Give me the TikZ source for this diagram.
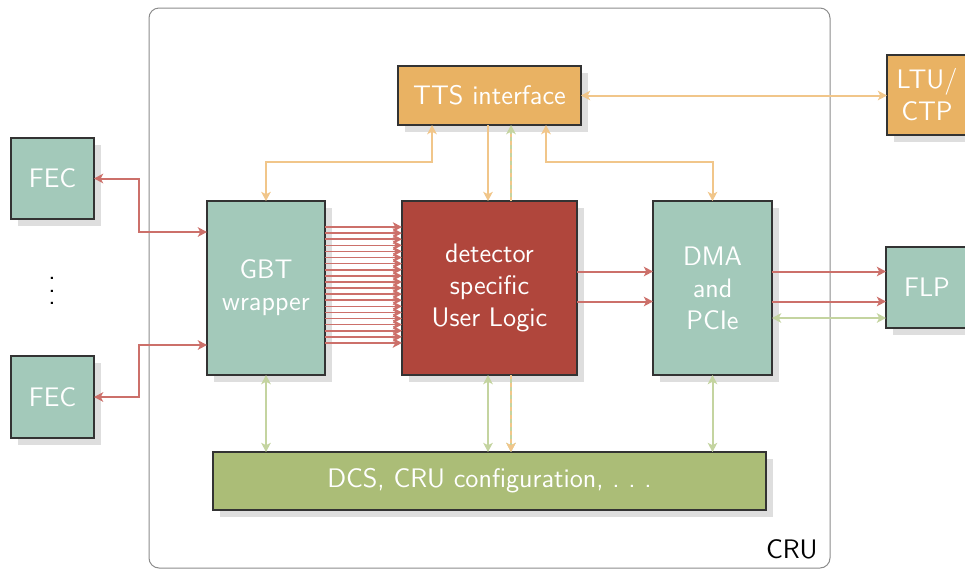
\documentclass[tikz,border=0pt]{standalone}
\usetikzlibrary{arrows.meta,shadows}
\definecolor{cteal}{RGB}{163,201,186}
\definecolor{corange}{RGB}{233,178,99}
\definecolor{cred}{RGB}{176,70,60}
\definecolor{cgreen}{RGB}{171,189,119}
\definecolor{lred}{RGB}{204,112,106}
\definecolor{lorange}{RGB}{241,198,138}
\definecolor{lgreen}{RGB}{196,212,160}
\tikzset{
  boxfont/.style={font=\sffamily\fontsize{13.4}{16}\selectfont},
  box/.style={boxfont, draw=black!80, line width=0.6pt, inner sep=0pt, outer sep=0pt,
    text=white, align=center,
    drop shadow={shadow xshift=3.4pt, shadow yshift=-3.4pt, fill=black!13, opacity=1}},
  redc/.style={draw=lred, line width=1pt},
  redthin/.style={draw=lred, line width=0.8pt},
  orc/.style={draw=lorange, line width=1pt},
  grc/.style={draw=lgreen, line width=1pt},
  mixdash/.style={dash pattern=on 2pt off 2pt},
}
\begin{document}
\begin{tikzpicture}[x=0.5pt,y=-0.5pt,>={Stealth[length=4.6pt,width=4.8pt,inset=1.2pt]}]
\useasboundingbox (0,0) rectangle (965,569);
\clip (0,0) rectangle (965,569);
% CRU frame
\node[draw=black!45, line width=0.5pt, rounded corners=5pt, minimum width=340.5pt,
  minimum height=280pt, inner sep=0pt, outer sep=0pt] (cru) at (489.5,288) {};
\node[boxfont, anchor=base east, inner sep=0pt, text=black] (crulabel) at (818,558) {CRU};
% boxes
\node[box, fill=corange, minimum width=91.5pt, minimum height=29.5pt] (tts) at (489.5,95.5) {TTS interface};
\node[box, fill=corange, minimum width=40pt, minimum height=40pt] (ltu) at (927,95) {LTU/\\CTP};
\node[box, fill=cteal, minimum width=41.5pt, minimum height=40.5pt] (fec1) at (52.5,178.5) {FEC};
\node[box, fill=cteal, minimum width=41.5pt, minimum height=41pt] (fec2) at (52.5,397) {FEC};
\node[boxfont, inner sep=0pt] (dots) at (52,291) {\vbox{\baselineskip=6.3pt\hbox{.}\hbox{.}\hbox{.}}};
\node[box, fill=cteal, minimum width=59pt, minimum height=87pt] (gbt) at (266,288) {GBT\\wrapper};
\node[box, fill=cred, minimum width=87.5pt, minimum height=87pt] (ul) at (489.5,288) {detector\\specific\\User Logic};
\node[box, fill=cteal, minimum width=59.5pt, minimum height=87pt] (dma) at (712.5,288) {DMA\\and\\PCIe};
\node[box, fill=cteal, minimum width=41pt, minimum height=40.5pt] (flp) at (927,287.5) {FLP};
\node[box, fill=cgreen, minimum width=276.5pt, minimum height=29pt] (dcs) at (489.5,481) {DCS, CRU configuration, .~.~.};
% FEC links
\draw[redc, <->] (fec1.east) -- (fec1.east -| 139,0) -- (139,232) -- (gbt.west |- 0,232);
\draw[redc, <->] (fec2.east) -- (fec2.east -| 139,0) -- (139,345) -- (gbt.west |- 0,345);
% GBT -> UL bundle
\foreach \i [evaluate=\i as \yy using 227+\i*6.1] in {0,...,19}
  \draw[redthin, ->] (gbt.east |- 0,\yy) -- (ul.west |- 0,\yy);
% UL -> DMA -> FLP
\draw[redc, ->] (ul.east |- 0,271.5) -- (dma.west |- 0,271.5);
\draw[redc, ->] (ul.east |- 0,301.5) -- (dma.west |- 0,301.5);
\draw[redc, ->] (dma.east |- 0,271.5) -- (flp.west |- 0,271.5);
\draw[redc, ->] (dma.east |- 0,301.5) -- (flp.west |- 0,301.5);
\draw[grc, <->] (dma.east |- 0,318) -- (flp.west |- 0,318);
% TTS links
\draw[orc, <->] (tts.south -| 432,0) -- (432,162) -| (gbt.north);
\draw[orc, <->] (tts.south -| 546,0) -- (546,162) -| (dma.north);
\draw[orc, ->] (tts.south -| 488,0) -- (ul.north -| 488,0);
\draw[orc, <->] (tts.east) -- (ltu.west |- tts.east);
\draw[grc, ->] (ul.north -| 511,0) -- (tts.south -| 511,0);
\draw[orc, mixdash, shorten >=4.6pt] (ul.north -| 511,0) -- (tts.south -| 511,0);
% DCS links
\draw[grc, <->] (gbt.south) -- (gbt.south |- dcs.north);
\draw[grc, <->] (ul.south -| 488,0) -- (dcs.north -| 488,0);
\draw[grc, <->] (dma.south) -- (dma.south |- dcs.north);
\draw[grc, ->] (ul.south -| 511,0) -- (dcs.north -| 511,0);
\draw[orc, mixdash, ->] (ul.south -| 511,0) -- (dcs.north -| 511,0);
\end{tikzpicture}
\end{document}
